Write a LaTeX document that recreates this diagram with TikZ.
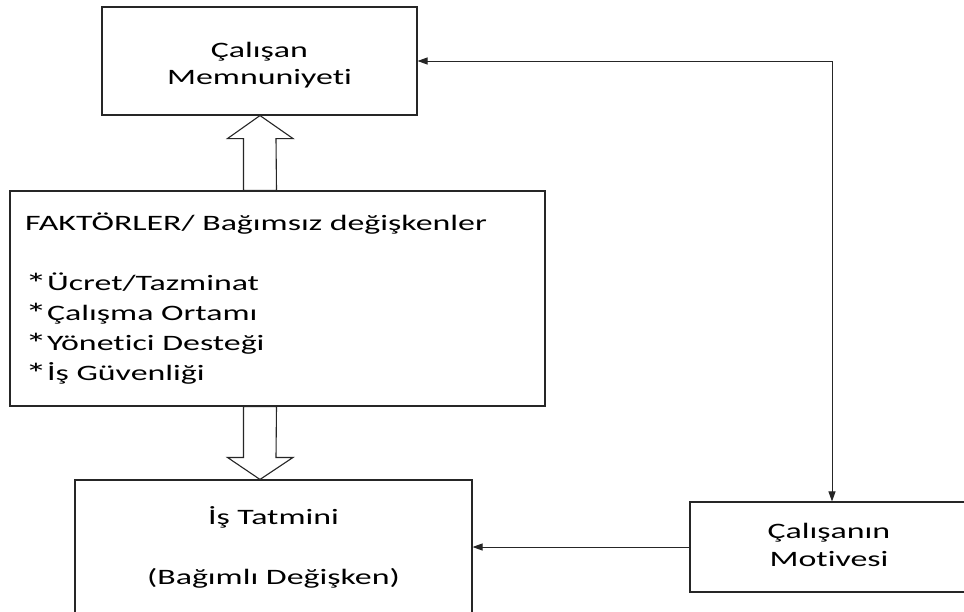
\documentclass[tikz,border=0pt]{standalone}
\usepackage{fontspec}
\setmainfont[FakeStretch=1.54,Ligatures=NoCommon]{Carlito}
\usetikzlibrary{arrows.meta,calc}
% list marker: a slightly enlarged asterisk
\newcommand\liststar{\raisebox{-3.5pt}{\scalebox{1.3}{*}}}
\begin{document}
\begin{tikzpicture}[x=1pt,y=-1pt,
  box/.style={draw=black!85,line width=1.1pt,rectangle,inner sep=0pt},
  conn/.style={draw=black!85,line width=1pt},
  tri/.style={-{Triangle[length=10pt,width=7pt]}},
  bitri/.style={{Triangle[length=10pt,width=7pt]}-{Triangle[length=10pt,width=7pt]}},
  blockarrow/.style={draw=black!85,line width=1.1pt,fill=white,line join=miter},
  txt/.style={inner sep=0pt,text=black}]
\clip (0,0) rectangle (964,611);
\fill[white] (0,0) rectangle (964,611);

% boxes
\node[box,minimum width=315,minimum height=108] (memn) at (259.5,61) {};
\node[box,minimum width=535,minimum height=215] (fak) at (277.5,298.5) {};
\node[box,minimum width=397,minimum height=170] (tatmin) at (273.5,565) {};
\node[box,minimum width=284,minimum height=90] (motiv) at (832,547) {};

% box texts
\node[txt,anchor=base,font=\fontsize{22}{26.7}\selectfont] (memnText) at (259.5,57.3)
  {\begin{tabular}[t]{@{}c@{}}Çalışan\\Memnuniyeti\end{tabular}};
\node[txt,anchor=base west,font=\fontsize{22}{30}\selectfont] (fakText) at (25,230)
  {\begin{tabular}[t]{@{}l@{}}FAKTÖRLER/ Bağımsız değişkenler\\ \\
   \liststar Ücret/Tazminat\\\liststar Çalışma Ortamı\\\liststar Yönetici Desteği\\\liststar İş Güvenliği\end{tabular}};
\node[txt,anchor=base,font=\fontsize{22}{30}\selectfont] (tatminText) at (273.5,524.3)
  {\begin{tabular}[t]{@{}c@{}}İş Tatmini\\ \\(Bağımlı Değişken)\end{tabular}};
\node[txt,anchor=base,font=\fontsize{22}{28.3}\selectfont] (motivText) at (829,538.3)
  {\begin{tabular}[t]{@{}c@{}}Çalışanın\\Motivesi\end{tabular}};

% hollow block arrows
\coordinate (upTip) at ($(memn.south)+(0.5,0)$);
\draw[blockarrow] (upTip) -- ++(33,23) -- ++(-17,0) -- ($(upTip |- fak.north)+(16.5,0)$)
  -- ($(upTip |- fak.north)+(-16.5,0)$) -- ($(upTip)+(-16.5,23)$) -- ++(-16,0) -- cycle;
\coordinate (downTip) at (upTip |- tatmin.north);
\draw[blockarrow] (downTip) -- ++(33,-22) -- ++(-17,0) -- ($(downTip |- fak.south)+(16.5,0)$)
  -- ($(downTip |- fak.south)+(-16.5,0)$) -- ($(downTip)+(-16.5,-22)$) -- ++(-16,0) -- cycle;

% connectors
\draw[conn,bitri] (memn.east) -| (motiv.north);
\draw[conn,tri] (motiv.west) -- (motiv.west -| tatmin.east);
\end{tikzpicture}
\end{document}
